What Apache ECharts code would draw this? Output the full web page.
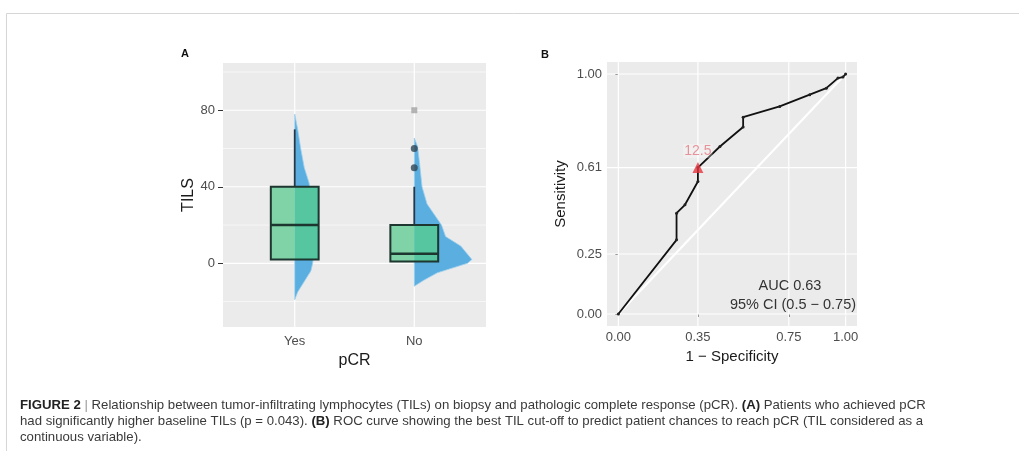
<!DOCTYPE html>
<html lang="en">
<head>
<meta charset="UTF-8">
<title>TILs and pCR</title>
<style>
  html, body { margin: 0; padding: 0; background: #fff; }
  #main { width: 1019px; height: 451px; }
</style>
</head>
<body>
<div id="main"></div>
<script src="https://cdn.jsdelivr.net/npm/echarts@6/dist/echarts.min.js"></script>
<script>
// ---- panel A: TILs by pCR ----
const groups = ['Yes', 'No'];
const groupPos = [1, 2];
// min, q1, median, q3, upper whisker
const boxYes = [2, 2, 20, 40, 70];
const boxNo = [1, 1, 5, 20, 40];
const outliersDark = [[2, 50], [2, 60]];
const outliersLight = [[2, 80]];
// half violin: TILs level and half width (x units)
const violinYesY = [78, 70, 60, 50, 42, 35, 25, 15, 5, 0, -4, -9, -15, -19];
const violinYesW = [0, 0.025, 0.05, 0.08, 0.12, 0.135, 0.15, 0.16, 0.16, 0.15, 0.135, 0.085, 0.025, 0];
const violinNoY = [65.5, 61, 52, 40, 31, 20, 14, 9, 2, 0, -5, -9, -12];
const violinNoW = [0, 0.028, 0.045, 0.065, 0.107, 0.228, 0.262, 0.389, 0.482, 0.445, 0.192, 0.076, 0];
const tilsTicks = [0, 40, 80];
const tilsMinor = [-20, 20, 60, 100];

// ---- panel B: ROC ----
const rocX = [0, 0.256, 0.256, 0.293, 0.35, 0.35, 0.447, 0.549, 0.549, 0.71, 0.842, 0.915, 0.966, 0.988, 1];
const rocY = [0, 0.309, 0.42, 0.455, 0.552, 0.61, 0.698, 0.779, 0.82, 0.865, 0.914, 0.941, 0.983, 0.987, 1];
const bestPoint = [0.35, 0.61];
const bestLabel = '12.5';
const diagX = [0, 1];
const diagY = [0, 1];
const specTicks = [0, 0.35, 0.75, 1];
const sensTicks = [0, 0.25, 0.61, 1];

const violins = [[violinYesY, violinYesW], [violinNoY, violinNoW]];
const boxes = [boxYes, boxNo];

const FONT = 'Liberation Sans, Arial, sans-serif';
const tickColor = '#4d4d4d';

// white ggplot-like grid lines drawn as a custom series
function gridSeries(idx, hMajor, hMinor, vMajor, xAny, yAny) {
    const data = [];
    hMajor.forEach(v => data.push([v, 1, 0]));
    hMinor.forEach(v => data.push([v, 0, 0]));
    vMajor.forEach(v => data.push([v, 1, 1]));
    return {
        type: 'custom',
        xAxisIndex: idx, yAxisIndex: idx,
        silent: true, z: 1,
        encode: { x: -1, y: -1 },
        data: data,
        renderItem: function (params, api) {
            const cs = params.coordSys;
            const v = api.value(0), major = api.value(1), vert = api.value(2);
            let shape;
            if (vert) {
                const px = api.coord([v, yAny])[0];
                shape = { x1: px, y1: cs.y, x2: px, y2: cs.y + cs.height };
            } else {
                const py = api.coord([xAny, v])[1];
                shape = { x1: cs.x, y1: py, x2: cs.x + cs.width, y2: py };
            }
            return {
                type: 'line', shape: shape,
                style: { stroke: '#ffffff', lineWidth: major ? 1.2 : 0.6 }
            };
        }
    };
}

const myChart = echarts.init(document.getElementById('main'));

const option = {
    animation: false,
    backgroundColor: '#ffffff',
    textStyle: { fontFamily: FONT },
    grid: [
        { left: 223, width: 263, top: 63, height: 264, show: true, backgroundColor: '#ebebeb', borderWidth: 0 },
        { left: 607, width: 250, top: 62, height: 264, show: true, backgroundColor: '#ebebeb', borderWidth: 0 }
    ],
    xAxis: [
        {
            gridIndex: 0, type: 'value', min: 0.4, max: 2.6,
            splitLine: { show: false }, axisLine: { show: false }, axisTick: { show: false },
            axisLabel: {
                customValues: groupPos, margin: 8, color: tickColor, fontSize: 13,
                formatter: v => groups[groupPos.indexOf(v)]
            },
            name: 'pCR', nameLocation: 'middle', nameGap: 18,
            nameTextStyle: { fontSize: 16, color: '#1a1a1a' }
        },
        {
            gridIndex: 1, type: 'value', min: -0.05, max: 1.05,
            splitLine: { show: false }, axisLine: { show: false },
            axisTick: { show: true, customValues: specTicks, length: 3, lineStyle: { color: '#333' } },
            axisLabel: {
                customValues: specTicks, margin: 5, color: tickColor, fontSize: 13,
                formatter: v => v.toFixed(2)
            },
            name: '1 \u2212 Specificity', nameLocation: 'middle', nameGap: 21,
            nameTextStyle: { fontSize: 15, color: '#1a1a1a' }
        }
    ],
    yAxis: [
        {
            gridIndex: 0, type: 'value', min: -33.3, max: 104.7,
            splitLine: { show: false }, axisLine: { show: false },
            axisTick: { show: true, customValues: tilsTicks, length: 5, lineStyle: { color: '#333' } },
            axisLabel: { customValues: tilsTicks, margin: 8, color: tickColor, fontSize: 13 },
            name: 'TILS', nameLocation: 'middle', nameGap: 26, nameRotate: 90,
            nameTextStyle: { fontSize: 16, color: '#1a1a1a' }
        },
        {
            gridIndex: 1, type: 'value', min: -0.05, max: 1.05,
            splitLine: { show: false }, axisLine: { show: false },
            axisTick: { show: true, customValues: sensTicks, length: 3, lineStyle: { color: '#333' } },
            axisLabel: {
                customValues: sensTicks, margin: 5, color: tickColor, fontSize: 13,
                formatter: v => v.toFixed(2)
            },
            name: 'Sensitivity', nameLocation: 'middle', nameGap: 39, nameRotate: 90,
            nameTextStyle: { fontSize: 15, color: '#1a1a1a' }
        }
    ],
    series: [
        gridSeries(0, tilsTicks, tilsMinor, groupPos, 1, 0),
        gridSeries(1, sensTicks, [], specTicks, 0.5, 0.5),
        // half violins
        {
            type: 'custom', xAxisIndex: 0, yAxisIndex: 0, z: 2, silent: true,
            data: groups.map((g, i) => [groupPos[i], i]),
            renderItem: function (params, api) {
                const i = api.value(1);
                const x0 = api.value(0);
                const ys = violins[i][0], ws = violins[i][1];
                const pts = [api.coord([x0, ys[0]])];
                ys.forEach((y, k) => pts.push(api.coord([x0 + ws[k], y])));
                pts.push(api.coord([x0, ys[ys.length - 1]]));
                return {
                    type: 'polygon', shape: { points: pts },
                    style: { fill: '#5aaee0', stroke: '#9fd0ee', lineWidth: 0.8 }
                };
            }
        },
        // boxes
        {
            type: 'custom', xAxisIndex: 0, yAxisIndex: 0, z: 3, silent: true,
            data: groups.map((g, i) => [groupPos[i], i]),
            renderItem: function (params, api) {
                const i = api.value(1);
                const x0 = api.value(0);
                const b = boxes[i];
                const hw = 0.2;
                const tl = api.coord([x0 - hw, b[3]]);
                const br = api.coord([x0 + hw, b[1]]);
                const mid = api.coord([x0, b[2]]);
                const top = api.coord([x0, b[4]]);
                const bot = api.coord([x0, b[0]]);
                const q3 = api.coord([x0, b[3]]);
                const q1 = api.coord([x0, b[1]]);
                const dark = '#1d362f';
                return {
                    type: 'group',
                    children: [
                        { type: 'line', shape: { x1: top[0], y1: top[1], x2: q3[0], y2: q3[1] },
                          style: { stroke: '#24384a', lineWidth: 1.8 } },
                        { type: 'line', shape: { x1: bot[0], y1: bot[1], x2: q1[0], y2: q1[1] },
                          style: { stroke: '#24384a', lineWidth: 1.8 } },
                        { type: 'rect', shape: { x: tl[0], y: tl[1], width: mid[0] - tl[0], height: br[1] - tl[1] },
                          style: { fill: '#80d3a6' } },
                        { type: 'rect', shape: { x: mid[0], y: tl[1], width: br[0] - mid[0], height: br[1] - tl[1] },
                          style: { fill: '#55c6a0' } },
                        { type: 'rect', shape: { x: tl[0], y: tl[1], width: br[0] - tl[0], height: br[1] - tl[1] },
                          style: { fill: 'none', stroke: dark, lineWidth: 2 } },
                        { type: 'line', shape: { x1: tl[0], y1: mid[1], x2: br[0], y2: mid[1] },
                          style: { stroke: dark, lineWidth: 2.6 } }
                    ]
                };
            }
        },
        {
            type: 'scatter', xAxisIndex: 0, yAxisIndex: 0, z: 4, silent: true,
            data: outliersDark, symbol: 'circle', symbolSize: 7,
            itemStyle: { color: '#2e4656' }
        },
        {
            type: 'scatter', xAxisIndex: 0, yAxisIndex: 0, z: 4, silent: true,
            data: outliersLight, symbol: 'rect', symbolSize: 6,
            itemStyle: { color: '#a3a3a3' }
        },
        // ROC panel
        {
            type: 'line', xAxisIndex: 1, yAxisIndex: 1, z: 2, silent: true,
            data: diagX.map((x, i) => [x, diagY[i]]), showSymbol: false,
            lineStyle: { color: '#ffffff', width: 2.2 }
        },
        {
            type: 'line', xAxisIndex: 1, yAxisIndex: 1, z: 3, silent: true,
            data: rocX.map((x, i) => [x, rocY[i]]),
            symbol: 'circle', symbolSize: 3, showSymbol: true,
            itemStyle: { color: '#222' },
            lineStyle: { color: '#111', width: 1.8 }
        },
        {
            type: 'scatter', xAxisIndex: 1, yAxisIndex: 1, z: 4, silent: true,
            data: [bestPoint], symbol: 'triangle', symbolSize: 11,
            itemStyle: { color: '#e6343f' },
            label: {
                show: true, position: 'top', distance: 4,
                formatter: bestLabel, color: '#e57b83', fontSize: 14,
                backgroundColor: 'rgba(255,255,255,0.35)', padding: [0, 1]
            }
        }
    ],
    graphic: [
        { type: 'rect', left: 4, top: 11, silent: true, z: 0,
          shape: { width: 1040, height: 470 },
          style: { fill: 'none', stroke: '#d6d6d6', lineWidth: 1 } },
        { type: 'text', left: 181, top: 48, z: 10,
          style: { text: 'A', fontSize: 11, fontWeight: 'bold', fill: '#111', fontFamily: FONT } },
        { type: 'text', left: 541, top: 49, z: 10,
          style: { text: 'B', fontSize: 11, fontWeight: 'bold', fill: '#111', fontFamily: FONT } },
        { type: 'text', x: 790, y: 286, z: 10,
          style: { text: 'AUC 0.63', fontSize: 14.5, fill: '#333', textAlign: 'center', textVerticalAlign: 'middle', fontFamily: FONT } },
        { type: 'text', x: 793, y: 305, z: 10,
          style: { text: '95% CI (0.5 \u2212 0.75)', fontSize: 14.5, fill: '#333', textAlign: 'center', textVerticalAlign: 'middle', fontFamily: FONT } },
        { type: 'text', left: 20, top: 397, z: 10,
          style: {
              text: '{b|FIGURE 2} {s||} Relationship between tumor-infiltrating lymphocytes (TILs) on biopsy and pathologic complete response (pCR). {b|(A)} Patients who achieved pCR\n' +
                    'had significantly higher baseline TILs (p = 0.043). {b|(B)} ROC curve showing the best TIL cut-off to predict patient chances to reach pCR (TIL considered as a\n' +
                    'continuous variable).',
              fontSize: 13.2, lineHeight: 16, fill: '#3a3a3a', fontFamily: FONT,
              rich: {
                  b: { fontSize: 13.2, lineHeight: 16, fontWeight: 'bold', fill: '#222', fontFamily: FONT },
                  s: { fontSize: 13.2, lineHeight: 16, fill: '#999', fontFamily: FONT }
              }
          } }
    ]
};

myChart.setOption(option);
</script>
</body>
</html>
